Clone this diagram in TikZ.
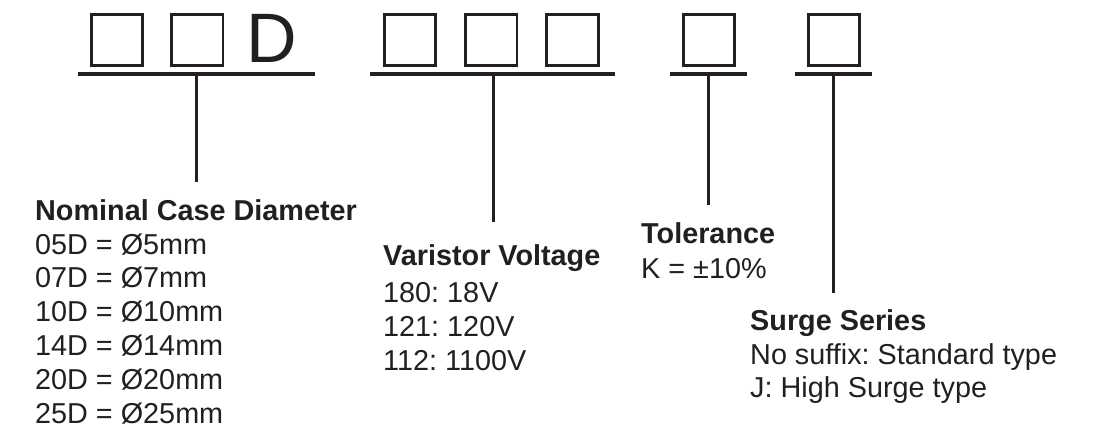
\documentclass[tikz,border=0pt]{standalone}
\usepackage{fontspec}
\setmainfont{Liberation Sans}
\usetikzlibrary{positioning}
\definecolor{ink}{RGB}{35,31,32}
\frenchspacing

\begin{document}
\begin{tikzpicture}[
        x=1pt, y=-1pt,
        node distance = 27pt,
        slot/.style = {rectangle, draw=ink, line width=2.7pt, minimum size=51.5pt, inner sep=0pt},
        letter/.style = {anchor=base west, inner sep=0pt, text=ink, font=\fontsize{70}{70}\selectfont},
        bar/.style = {draw=ink, line width=3.2pt},
        stem/.style = {draw=ink, line width=3pt},
        legend/.style = {anchor=base west, inner sep=0pt, align=left, text=ink, font=\fontsize{28.8}{33.8}\selectfont}
    ]
    \useasboundingbox (0,0) rectangle (1095,433);

    % code slots
    \node [slot] (c1) at (117,40) {};
    \node [slot, right=26pt of c1] (c2) {};
    \node [letter] (d) at (246.5,63) {D};
    \node [slot] (v1) at (410,40) {};
    \node [slot, right=of v1] (v2) {};
    \node [slot, right=of v2] (v3) {};
    \node [slot] (t1) at (709,40) {};
    \node [slot] (s1) at (834,40) {};

    % underlines and stems
    \coordinate (c-l) at (78,74);  \coordinate (c-r) at (315,74);
    \coordinate (c-m) at (196,74); \coordinate (c-e) at (196,182);
    \coordinate (v-l) at (370,74); \coordinate (v-r) at (615,74);
    \coordinate (v-m) at (493,74); \coordinate (v-e) at (493,222);
    \coordinate (t-l) at (670,74); \coordinate (t-r) at (747,74);
    \coordinate (t-m) at (708,74); \coordinate (t-e) at (708,205);
    \coordinate (s-l) at (795,74); \coordinate (s-r) at (872,74);
    \coordinate (s-m) at (833,74); \coordinate (s-e) at (833,293);

    \path [bar] (c-l) -- (c-r);
    \path [bar] (v-l) -- (v-r);
    \path [bar] (t-l) -- (t-r);
    \path [bar] (s-l) -- (s-r);
    \path [stem] (c-m) -- (c-e);
    \path [stem] (v-m) -- (v-e);
    \path [stem] (t-m) -- (t-e);
    \path [stem] (s-m) -- (s-e);

    % legends (anchored at the last line's baseline)
    \node [legend] (diam) at (35,423) {\textbf{Nominal Case Diameter}\\05D = Ø5mm\\07D = Ø7mm\\10D = Ø10mm\\14D = Ø14mm\\20D = Ø20mm\\25D = Ø25mm};
    \node [legend] (volt) at (383,370) {\textbf{Varistor Voltage}\\[3pt]180: 18V\\121: 120V\\112: 1100V};
    \node [legend] (tol) at (641,278) {\textbf{Tolerance}\\[1pt]K = ±10\%};
    \node [legend] (surge) at (750,397) {\textbf{Surge Series}\\No suffix: Standard type\\[-1pt]J: High Surge type};

\end{tikzpicture}
\end{document}
